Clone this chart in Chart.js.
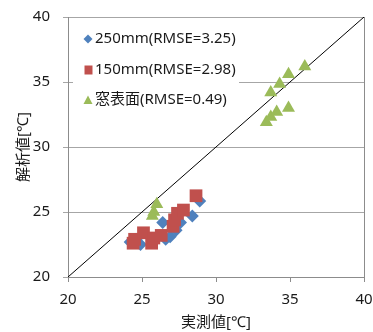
<!DOCTYPE html>
<html><head><meta charset="utf-8">
<script src="https://cdn.jsdelivr.net/npm/chart.js@4/dist/chart.umd.min.js"></script>
<style>html,body{margin:0;padding:0;background:#fff}#wrap{width:373px;height:332px}</style>
</head><body><div id="wrap"><canvas id="c" width="373" height="332"></canvas></div>
<script>
const FONT = '"Noto Sans", "Noto Sans CJK JP", sans-serif';
const xTicks = [20, 25, 30, 35, 40];
const yTicks = [20, 25, 30, 35, 40];
const xTitle = '実測値[℃]';
const yTitle = '解析値[℃]';
const seriesNames = ['250mm(RMSE=3.25)', '150mm(RMSE=2.98)', '窓表面(RMSE=0.49)'];
const seriesColors = ['#4F81BD', '#C0504D', '#9BBB59'];
const m250x = [24.2, 24.6, 24.9, 25.8, 26.4, 26.6, 26.9, 27.3, 27.6, 28.4, 28.9];
const m250y = [22.7, 22.9, 22.5, 22.7, 24.2, 22.9, 23.1, 23.6, 24.2, 24.7, 25.85];
const m150x = [24.4, 24.5, 25.1, 25.65, 25.8, 26.3, 27.1, 27.2, 27.4, 27.8, 28.65];
const m150y = [22.6, 22.9, 23.4, 22.6, 23.0, 23.2, 23.9, 24.4, 24.9, 25.15, 26.25];
const winx = [25.7, 25.8, 26.0, 33.4, 33.7, 34.1, 34.9, 33.7, 34.3, 34.9, 36.0];
const winy = [24.7, 25.0, 25.6, 31.9, 32.3, 32.7, 33.0, 34.2, 34.85, 35.6, 36.2];
const diagX = [20, 40];
const diagY = [20, 40];

const pts = (xs, ys) => xs.map((x, i) => ({x, y: ys[i]}));
const noPad = s => { s.paddingLeft = 0; s.paddingRight = 0; s.paddingTop = 0; s.paddingBottom = 0; };

const frame = {
  id: 'frame',
  beforeDatasetsDraw(chart) {
    const {ctx, chartArea: a} = chart;
    ctx.save();
    ctx.strokeStyle = '#8c8c8c';
    ctx.lineWidth = 1;
    ctx.beginPath();
    ctx.moveTo(Math.round(a.right) + 0.5, a.top);
    ctx.lineTo(Math.round(a.right) + 0.5, a.bottom);
    ctx.stroke();
    ctx.restore();
  }
};

const legendBox = {
  id: 'legendBox',
  afterDatasetsDraw(chart) {
    const ctx = chart.ctx;
    ctx.save();
    ctx.fillStyle = '#fff';
    ctx.fillRect(73, 22, 166, 94);
    const rows = [39, 70, 100];
    ctx.font = '15px ' + FONT;
    ctx.textBaseline = 'middle';
    ctx.textAlign = 'left';
    rows.forEach((y, i) => {
      const x = 88;
      ctx.fillStyle = seriesColors[i];
      ctx.beginPath();
      if (i === 0) {
        ctx.moveTo(x, y - 4.5); ctx.lineTo(x + 4.5, y); ctx.lineTo(x, y + 4.5); ctx.lineTo(x - 4.5, y);
      } else if (i === 1) {
        ctx.rect(x - 3.5, y - 4.5, 8, 9);
      } else {
        ctx.moveTo(x, y - 4.5); ctx.lineTo(x + 4.5, y + 4); ctx.lineTo(x - 4.5, y + 4);
      }
      ctx.closePath();
      ctx.fill();
      ctx.fillStyle = '#1a1a1a';
      ctx.fillText(seriesNames[i], 95, y);
    });
    ctx.restore();
  }
};

new Chart(document.getElementById('c'), {
  type: 'scatter',
  data: {
    datasets: [
      {label: 'diag', data: pts(diagX, diagY), showLine: true, borderColor: '#000', borderWidth: 1, pointRadius: 0, order: 4},
      {label: seriesNames[0], data: pts(m250x, m250y), pointStyle: 'rectRot', pointRadius: 6.5, backgroundColor: seriesColors[0], borderColor: seriesColors[0], borderWidth: 0, order: 3},
      {label: seriesNames[1], data: pts(m150x, m150y), pointStyle: 'rect', pointRadius: 9, backgroundColor: seriesColors[1], borderColor: seriesColors[1], borderWidth: 0, order: 2},
      {label: seriesNames[2], data: pts(winx, winy), pointStyle: 'triangle', pointRadius: 7.5, backgroundColor: seriesColors[2], borderColor: seriesColors[2], borderWidth: 0, order: 1}
    ]
  },
  options: {
    responsive: false,
    animation: false,
    layout: {padding: {top: 17, right: 9, left: 0, bottom: 0}},
    plugins: {legend: {display: false}, tooltip: {enabled: false}},
    scales: {
      x: {
        type: 'linear', min: 20, max: 40,
        afterBuildTicks: s => { s.ticks = xTicks.map(v => ({value: v})); },
        afterFit: s => { s.height = 55; noPad(s); },
        ticks: {font: {family: FONT, size: 15}, color: '#1a1a1a', padding: 9, maxRotation: 0},
        grid: {drawOnChartArea: false, tickLength: 5, color: '#8c8c8c'},
        border: {color: '#8c8c8c'},
        title: {display: true, text: xTitle, font: {family: FONT, size: 15}, color: '#1a1a1a', padding: {top: 0, bottom: 0}}
      },
      y: {
        type: 'linear', min: 20, max: 40,
        afterBuildTicks: s => { s.ticks = yTicks.map(v => ({value: v})); },
        afterFit: s => { s.width = 68; noPad(s); },
        ticks: {font: {family: FONT, size: 15}, color: '#1a1a1a', padding: 13},
        grid: {tickLength: 5, color: '#a6a6a6'},
        border: {color: '#8c8c8c'},
        title: {display: true, text: yTitle, font: {family: FONT, size: 15}, color: '#1a1a1a', padding: {top: 15, bottom: 0}}
      }
    }
  },
  plugins: [frame, legendBox]
});
</script>
</body></html>
